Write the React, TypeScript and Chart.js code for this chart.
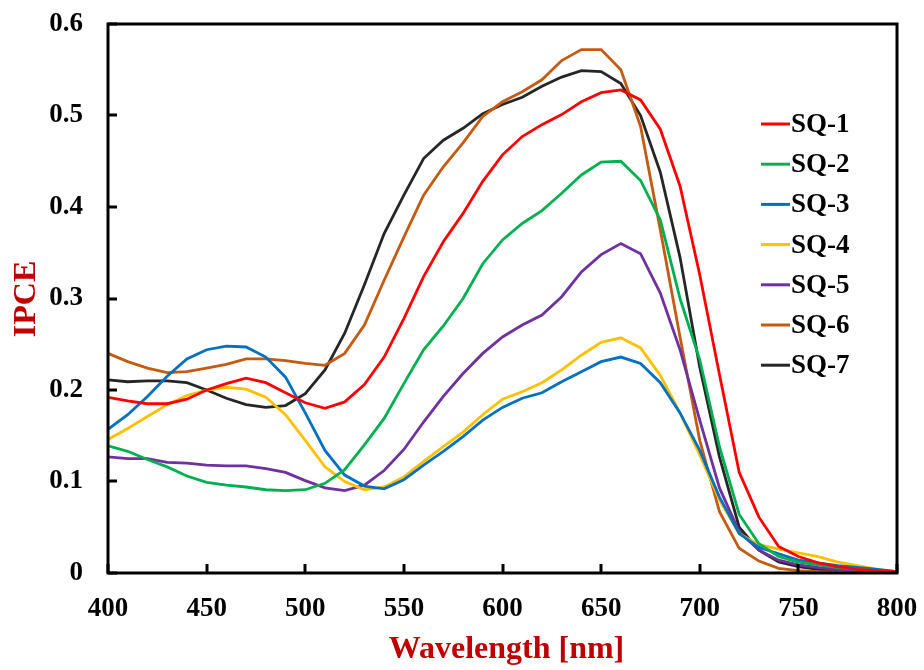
import React, { useEffect, useRef } from "react";
import { Chart, registerables } from "chart.js";

Chart.register(...registerables);

const wavelengths = [400, 410, 420, 430, 440, 450, 460, 470, 480, 490, 500, 510, 520, 530, 540, 550, 560, 570, 580, 590, 600, 610, 620, 630, 640, 650, 660, 670, 680, 690, 700, 710, 720, 730, 740, 750, 760, 770, 780, 790, 800];

const sq1 = [0.192, 0.188, 0.185, 0.185, 0.190, 0.200, 0.207, 0.213, 0.208, 0.197, 0.186, 0.180, 0.187, 0.206, 0.236, 0.278, 0.324, 0.362, 0.393, 0.428, 0.457, 0.477, 0.490, 0.501, 0.515, 0.525, 0.528, 0.517, 0.485, 0.423, 0.326, 0.217, 0.110, 0.061, 0.029, 0.018, 0.011, 0.007, 0.004, 0.0026, 0.0015];
const sq2 = [0.139, 0.133, 0.124, 0.116, 0.106, 0.099, 0.096, 0.094, 0.091, 0.090, 0.091, 0.098, 0.113, 0.140, 0.169, 0.207, 0.244, 0.270, 0.300, 0.338, 0.364, 0.382, 0.396, 0.415, 0.435, 0.449, 0.450, 0.429, 0.386, 0.300, 0.233, 0.138, 0.064, 0.032, 0.018, 0.012, 0.009, 0.006, 0.004, 0.0026, 0.001];
const sq3 = [0.157, 0.173, 0.193, 0.215, 0.234, 0.244, 0.248, 0.247, 0.236, 0.214, 0.175, 0.134, 0.107, 0.095, 0.092, 0.102, 0.118, 0.133, 0.149, 0.167, 0.181, 0.191, 0.197, 0.209, 0.220, 0.231, 0.236, 0.229, 0.208, 0.175, 0.134, 0.083, 0.043, 0.028, 0.021, 0.014, 0.011, 0.008, 0.006, 0.004, 0.0015];
const sq4 = [0.146, 0.158, 0.171, 0.184, 0.194, 0.200, 0.203, 0.201, 0.192, 0.173, 0.145, 0.116, 0.100, 0.091, 0.094, 0.105, 0.122, 0.138, 0.154, 0.173, 0.190, 0.198, 0.208, 0.222, 0.238, 0.252, 0.257, 0.246, 0.216, 0.175, 0.129, 0.080, 0.043, 0.031, 0.026, 0.022, 0.018, 0.012, 0.008, 0.004, 0.0015];
const sq5 = [0.127, 0.125, 0.125, 0.121, 0.120, 0.118, 0.117, 0.117, 0.114, 0.110, 0.101, 0.093, 0.090, 0.096, 0.112, 0.135, 0.165, 0.193, 0.218, 0.240, 0.258, 0.271, 0.282, 0.302, 0.329, 0.348, 0.360, 0.349, 0.306, 0.244, 0.167, 0.093, 0.045, 0.025, 0.014, 0.009, 0.006, 0.004, 0.003, 0.002, 0.001];
const sq6 = [0.240, 0.231, 0.224, 0.219, 0.220, 0.224, 0.228, 0.234, 0.234, 0.232, 0.229, 0.227, 0.240, 0.271, 0.320, 0.367, 0.413, 0.444, 0.470, 0.499, 0.515, 0.526, 0.539, 0.560, 0.572, 0.572, 0.550, 0.488, 0.375, 0.258, 0.145, 0.067, 0.027, 0.013, 0.005, 0.0025, 0.0015, 0.001, 0.001, 0.001, 0.001];
const sq7 = [0.211, 0.209, 0.210, 0.210, 0.208, 0.200, 0.191, 0.184, 0.181, 0.183, 0.196, 0.222, 0.262, 0.315, 0.371, 0.413, 0.453, 0.473, 0.486, 0.502, 0.512, 0.520, 0.532, 0.542, 0.549, 0.548, 0.535, 0.500, 0.438, 0.345, 0.225, 0.127, 0.050, 0.025, 0.012, 0.007, 0.004, 0.003, 0.002, 0.0015, 0.001];

const seriesNames = ["SQ-1", "SQ-2", "SQ-3", "SQ-4", "SQ-5", "SQ-6", "SQ-7"];
const seriesValues = [sq1, sq2, sq3, sq4, sq5, sq6, sq7];
const seriesColors = ["#FF0000", "#00B050", "#0070C0", "#FFC000", "#7030A0", "#C55A11", "#262626"];

const xTicks = [400, 450, 500, 550, 600, 650, 700, 750, 800];
const yTicks = [0, 0.1, 0.2, 0.3, 0.4, 0.5, 0.6];

const xTitle = "Wavelength [nm]";
const yTitle = "IPCE";

const SERIF = '"Liberation Serif", "Times New Roman", serif';

const zeroPad = (s: any) => {
  s.paddingTop = 0;
  s.paddingBottom = 0;
  s.paddingLeft = 0;
  s.paddingRight = 0;
};

const framePlugin = {
  id: "frame",
  afterDatasetsDraw(chart: any) {
    const { ctx, chartArea } = chart;
    const xs = chart.scales.x;
    const ys = chart.scales.y;
    ctx.save();
    ctx.strokeStyle = "#000";
    ctx.lineWidth = 3;
    ctx.strokeRect(chartArea.left, chartArea.top, chartArea.right - chartArea.left, chartArea.bottom - chartArea.top);
    ctx.beginPath();
    xTicks.forEach((v) => {
      const px = Math.round(xs.getPixelForValue(v));
      ctx.moveTo(px, chartArea.bottom);
      ctx.lineTo(px, chartArea.bottom - 9);
    });
    yTicks.forEach((v) => {
      const py = Math.round(ys.getPixelForValue(v));
      ctx.moveTo(chartArea.left, py);
      ctx.lineTo(chartArea.left + 9, py);
    });
    ctx.stroke();

    // legend
    ctx.font = `bold 27px ${SERIF}`;
    ctx.textAlign = "left";
    ctx.textBaseline = "middle";
    seriesNames.forEach((name, i) => {
      const y = 124 + i * 40.2;
      ctx.strokeStyle = seriesColors[i];
      ctx.lineWidth = 3;
      ctx.beginPath();
      ctx.moveTo(761, y);
      ctx.lineTo(790, y);
      ctx.stroke();
      ctx.fillStyle = "#000";
      ctx.fillText(name, 791, y + 1);
    });

    // axis titles
    ctx.fillStyle = "#C00000";
    ctx.font = `bold 32px ${SERIF}`;
    ctx.textAlign = "center";
    ctx.textBaseline = "alphabetic";
    ctx.fillText(xTitle, (chartArea.left + chartArea.right) / 2 + 4, 658);
    ctx.save();
    ctx.translate(35, 299);
    ctx.rotate(-Math.PI / 2);
    ctx.font = `bold 32px ${SERIF}`;
    ctx.fillText(yTitle, 0, 0);
    ctx.restore();
    ctx.restore();
  },
};

export default function App() {
  const ref = useRef<HTMLCanvasElement>(null);
  useEffect(() => {
    if (!ref.current) return;
    const chart = new Chart(ref.current, {
      type: "line",
      data: {
        datasets: seriesNames.map((name, i) => ({
          label: name,
          data: wavelengths.map((w, j) => ({ x: w, y: seriesValues[i][j] })),
          borderColor: seriesColors[i],
          backgroundColor: seriesColors[i],
          borderWidth: 2.8,
          pointRadius: 0,
          tension: 0,
          fill: false,
        })),
      },
      options: {
        responsive: false,
        animation: false,
        devicePixelRatio: 1,
        layout: { padding: { left: 0, top: 24, right: 27, bottom: 0 } },
        plugins: { legend: { display: false }, tooltip: { enabled: false }, title: { display: false } },
        scales: {
          x: {
            type: "linear",
            min: 400,
            max: 800,
            afterFit: (s: any) => { s.height = 97; zeroPad(s); },
            afterBuildTicks: (s: any) => { s.ticks = xTicks.map((v) => ({ value: v })); },
            grid: { display: false },
            border: { display: false },
            ticks: {
              padding: 12,
              color: "#000",
              font: { family: SERIF, size: 27, weight: "bold" },
              callback: (v: any) => String(v),
            },
          },
          y: {
            type: "linear",
            min: 0,
            max: 0.6,
            afterFit: (s: any) => { s.width = 108; zeroPad(s); },
            afterBuildTicks: (s: any) => { s.ticks = yTicks.map((v) => ({ value: v })); },
            grid: { display: false },
            border: { display: false },
            ticks: {
              padding: 17,
              color: "#000",
              font: { family: SERIF, size: 27, weight: "bold" },
              callback: (v: any) => String(Math.round(v * 10) / 10),
            },
          },
        },
      },
      plugins: [framePlugin],
    } as any);
    return () => chart.destroy();
  }, []);
  return (
    <div style={{ position: "fixed", left: 0, top: 0, width: 924, height: 670, background: "#fff" }}>
      <canvas ref={ref} width={924} height={670} style={{ width: 924, height: 670 }} />
    </div>
  );
}
